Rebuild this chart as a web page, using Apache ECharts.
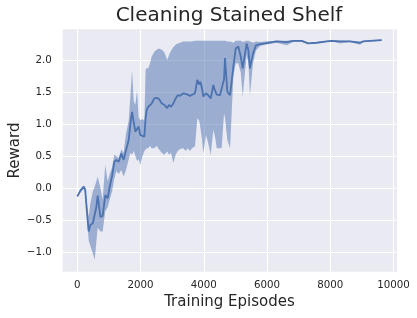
<!DOCTYPE html>
<html>
<head>
<meta charset="utf-8">
<script src="https://cdn.jsdelivr.net/npm/echarts@6/dist/echarts.min.js"></script>
<style>html,body{margin:0;padding:0;background:#fff;}#chart{width:417px;height:318px;}</style>
</head>
<body>
<div id="chart"></div>
<script>
const episodes = [0,100,200,250,300,360,410,490,550,600,645,730,800,885,960,1025,1100,1170,1235,1310,1390,1465,1540,1625,1680,1730,1785,1835,1890,1940,1990,2050,2120,2160,2195,2245,2300,2350,2435,2510,2585,2670,2750,2805,2845,2900,2965,3035,3110,3175,3250,3350,3430,3490,3565,3625,3720,3795,3850,3890,3945,3985,4070,4140,4220,4300,4355,4410,4510,4565,4640,4670,4745,4830,4935,5010,5090,5170,5230,5355,5410,5460,5555,5650,5780,5935,6300,6620,6830,7100,7300,7570,7890,8050,8300,8620,8940,9040,9250,9625];
const meanReward = [-0.13,-0.04,0.02,-0.03,-0.35,-0.68,-0.58,-0.55,-0.53,-0.30,-0.12,-0.45,-0.44,-0.11,-0.16,0.02,0.19,0.41,0.44,0.41,0.54,0.44,0.59,0.75,1.01,1.19,1.17,0.88,0.91,0.96,0.83,0.81,0.80,1.10,1.22,1.27,1.25,1.32,1.40,1.41,1.39,1.32,1.30,1.32,1.25,1.30,1.27,1.32,1.40,1.45,1.44,1.48,1.47,1.47,1.44,1.47,1.48,1.69,1.62,1.66,1.55,1.43,1.48,1.45,1.40,1.61,1.52,1.46,1.45,1.45,1.70,2.03,1.50,1.45,1.90,2.18,2.21,2.05,1.87,2.26,2.15,1.87,2.10,2.23,2.25,2.26,2.29,2.28,2.30,2.30,2.26,2.27,2.29,2.30,2.29,2.29,2.27,2.29,2.30,2.31];
const lowerBound = [-0.15,-0.07,-0.01,-0.08,-0.45,-0.82,-0.90,-1.02,-1.12,-0.85,-0.62,-0.68,-0.68,-0.36,-0.30,-0.18,-0.05,0.15,0.26,0.22,0.28,0.18,0.28,0.45,0.55,0.52,0.58,0.50,0.42,0.45,0.36,0.48,0.58,0.60,0.62,0.62,0.66,0.62,0.62,0.66,0.60,0.55,0.52,0.55,0.57,0.52,0.55,0.39,0.52,0.58,0.61,0.62,0.58,0.62,0.58,0.62,0.65,1.09,1.06,0.95,0.75,0.54,0.83,0.70,0.52,0.91,0.80,0.62,0.62,0.63,1.17,1.10,0.75,0.62,1.75,1.95,1.95,1.80,1.43,2.08,1.95,1.45,1.95,2.15,2.22,2.24,2.27,2.23,2.28,2.28,2.25,2.26,2.28,2.29,2.26,2.28,2.24,2.28,2.29,2.30];
const upperBound = [-0.11,-0.01,0.04,0.02,-0.22,-0.45,-0.25,-0.05,0.02,0.10,0.18,0.00,-0.18,0.36,0.10,0.22,0.32,0.52,0.50,0.47,0.60,0.55,0.85,1.05,1.45,1.84,1.35,1.30,1.53,1.10,1.06,1.08,1.05,1.85,1.87,1.87,1.95,2.05,2.13,2.16,2.18,2.16,2.12,2.05,2.00,2.08,2.15,2.20,2.24,2.26,2.27,2.29,2.29,2.29,2.29,2.29,2.30,2.30,2.30,2.30,2.30,2.30,2.30,2.30,2.30,2.30,2.30,2.30,2.30,2.30,2.30,2.30,2.29,2.29,2.27,2.30,2.30,2.30,2.28,2.30,2.30,2.29,2.27,2.29,2.28,2.29,2.30,2.30,2.31,2.31,2.27,2.28,2.30,2.31,2.30,2.30,2.28,2.30,2.31,2.32];
const xTickValues = [0,2000,4000,6000,8000,10000];
const yTickValues = [-1.0,-0.5,0.0,0.5,1.0,1.5,2.0];
const titleText = 'Cleaning Stained Shelf';
const xLabelText = 'Training Episodes';
const yLabelText = 'Reward';

const FONT = '"DejaVu Sans", sans-serif';
const TXT = '#262626';
const BLUE = '#4C72B0';

const chart = echarts.init(document.getElementById('chart'), null, {renderer: 'canvas'});

const meanData = episodes.map((e, i) => [e, meanReward[i]]);
const bandData = episodes.map((e, i) => [e, lowerBound[i], upperBound[i]]);

function near(v, list, eps) { return list.some(t => Math.abs(t - v) < eps); }

const option = {
  animation: false,
  backgroundColor: '#ffffff',
  grid: {left: 62.7, right: 20, top: 29.3, bottom: 46.3, containLabel: false,
         show: true, backgroundColor: '#EAEAF2', borderWidth: 0},
  xAxis: {
    type: 'value', min: -462, max: 10109, splitNumber: 5,
    axisLine: {show: false}, axisTick: {show: false},
    splitLine: {show: true, showMinLine: false, showMaxLine: false, lineStyle: {color: '#ffffff', width: 1.1}},
    axisLabel: {show: true, margin: 9, color: TXT, fontFamily: FONT, fontSize: 10.25,
      showMinLabel: false, showMaxLabel: false,
      formatter: v => near(v, xTickValues, 1) ? String(Math.round(v)) : ''}
  },
  yAxis: {
    type: 'value', min: -1.308, max: 2.48, splitNumber: 7,
    axisLine: {show: false}, axisTick: {show: false},
    splitLine: {show: true, showMinLine: false, showMaxLine: false, lineStyle: {color: '#ffffff', width: 1.1}},
    axisLabel: {show: true, margin: 11, color: TXT, fontFamily: FONT, fontSize: 10.25,
      showMinLabel: false, showMaxLabel: false,
      formatter: v => near(v, yTickValues, 1e-6) ? v.toFixed(1).replace('-', '\u2212') : ''}
  },
  graphic: [
    {type: 'text', x: 229, y: 15.8, silent: true,
     style: {text: titleText, font: '20px ' + FONT, fill: TXT, align: 'center', verticalAlign: 'middle', textAlign: 'center', textVerticalAlign: 'middle'}},
    {type: 'text', x: 229.5, y: 302.3, silent: true,
     style: {text: xLabelText, font: '15px ' + FONT, fill: TXT, align: 'center', verticalAlign: 'middle', textAlign: 'center', textVerticalAlign: 'middle'}},
    {type: 'text', x: 15.5, y: 150.5, rotation: Math.PI / 2, silent: true,
     style: {text: yLabelText, font: '15px ' + FONT, fill: TXT, align: 'center', verticalAlign: 'middle', textAlign: 'center', textVerticalAlign: 'middle'}}
  ],
  series: [
    {
      type: 'custom', name: 'band', data: bandData, clip: true, z: 2, silent: true,
      encode: {x: 0, y: [1, 2]},
      renderItem: function (params, api) {
        if (params.dataIndex !== 0) return null;
        const top = bandData.map(d => api.coord([d[0], d[2]]));
        const bot = bandData.map(d => api.coord([d[0], d[1]])).reverse();
        return {type: 'polygon', shape: {points: top.concat(bot)},
                style: {fill: 'rgba(76,114,176,0.5)', stroke: null}};
      }
    },
    {
      type: 'line', name: 'mean', data: meanData, showSymbol: false, symbol: 'none', z: 3,
      lineStyle: {color: BLUE, width: 1.8}, silent: true
    }
  ]
};
chart.setOption(option);
</script>
</body>
</html>
